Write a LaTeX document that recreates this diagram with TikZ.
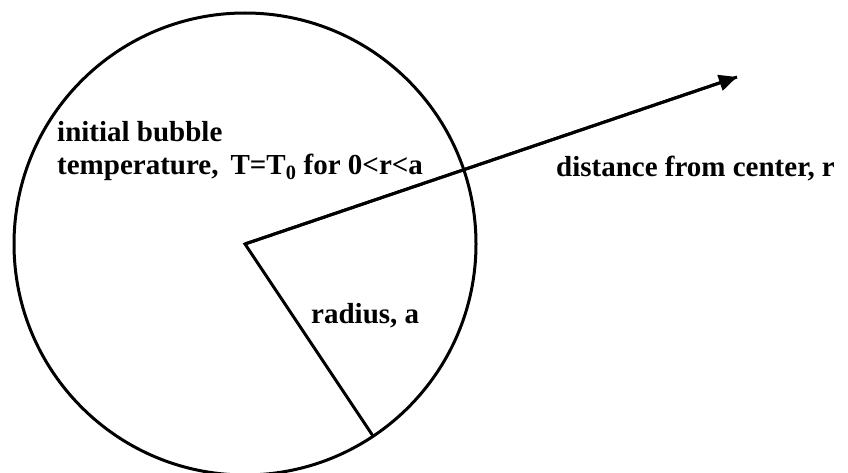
\documentclass[tikz,border=0pt]{standalone}
\usepackage{fontspec}
\setmainfont{Liberation Serif}
\usepackage{tikz}
\usetikzlibrary{arrows.meta,positioning,calc}

\tikzset{
  bubbletext/.style={font=\bfseries\fontsize{29}{33}\selectfont, inner sep=0pt, anchor=base west},
  thickline/.style={line width=3pt, black}
}

\begin{document}
\begin{tikzpicture}[x=1pt, y=-1pt]
  \useasboundingbox (0,0) rectangle (848,473);

  % --- Bubble ---
  \coordinate (center) at (245,244);
  \coordinate (rim) at (373,436);
  \coordinate (tip) at (737,77);
  \draw[thickline] (center) circle[radius=231];

  % Radius and distance arrow
  \draw[thickline, line join=miter] (rim) -- (center) -- (tip);
  \draw[thickline, -{Triangle[length=18pt,width=16pt]}] (center) -- (tip);

  % --- Labels ---
  \node[bubbletext] (initial) at (57,142) {initial bubble};
  \node[bubbletext] (temp) at (57,175) {temperature,\, T=T\textsubscript{0} for 0<r<a};
  \node[bubbletext] (dist) at (556,177) {distance from center, r};
  \node[bubbletext] (radius) at (311,323) {radius, a};
\end{tikzpicture}
\end{document}
